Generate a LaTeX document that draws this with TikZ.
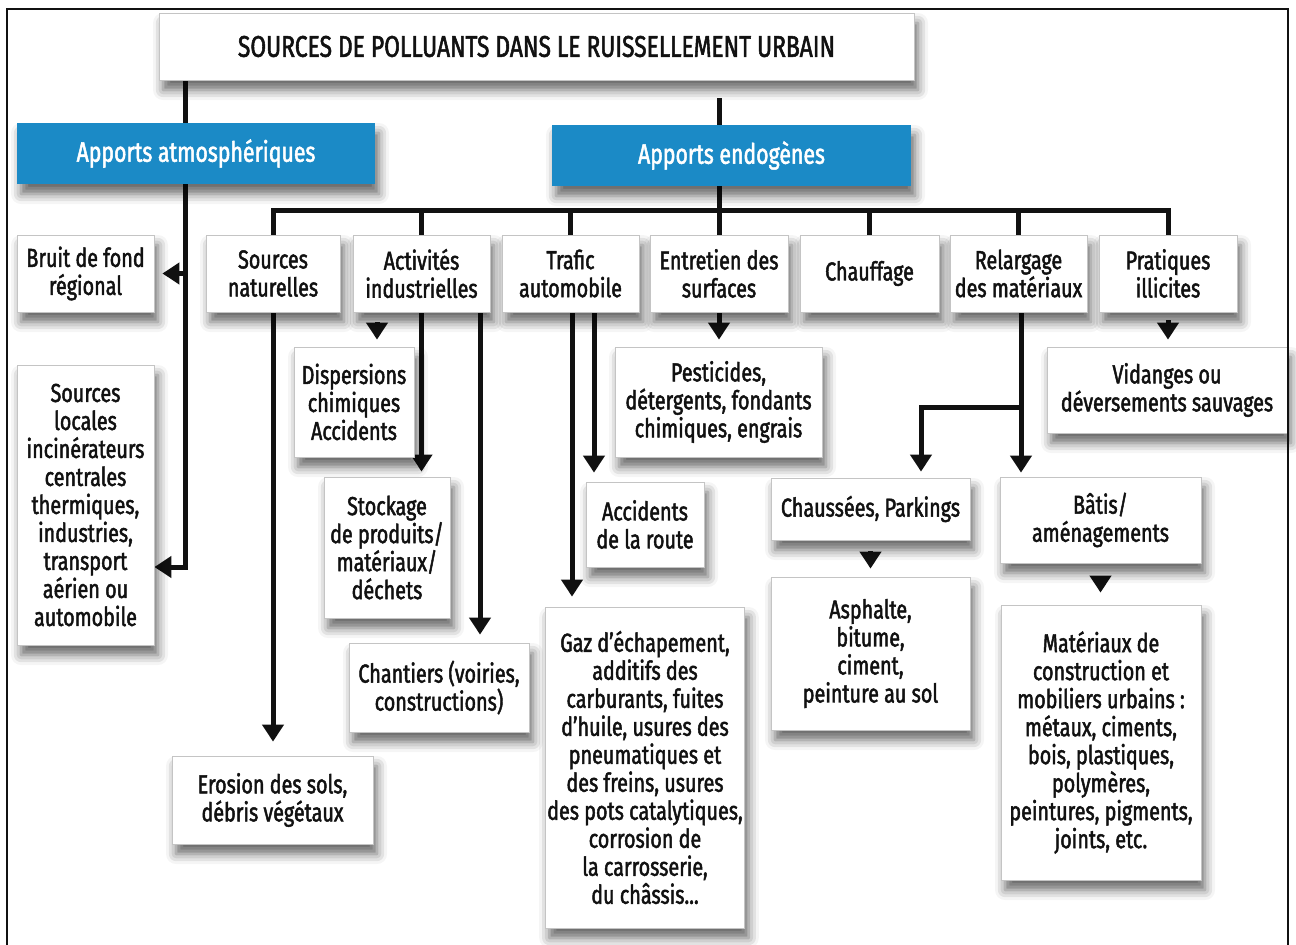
\documentclass[tikz,border=0pt]{standalone}
\usepackage{fontspec}
\setmainfont{Fira Sans}[FakeStretch=0.76,FakeBold=1.8]
\usepackage{tikz}
\usetikzlibrary{arrows.meta,backgrounds,shadows.blur}
\definecolor{HeadBlue}{HTML}{1B8AC6}
\definecolor{BoxEdge}{HTML}{C4C4C4}
\definecolor{InkBlack}{HTML}{111111}

\begin{document}
\begin{tikzpicture}[x=1pt,y=-1pt,
font=\fontsize{26}{28}\selectfont,
box/.style={draw=BoxEdge,line width=0.8pt,fill=white,text=InkBlack,align=center,inner sep=2pt,blur shadow={shadow xshift=4pt,shadow yshift=-10pt,shadow blur radius=10pt,shadow opacity=60}},
head/.style={box,draw=none,fill=HeadBlue,text=white,font=\fontsize{28}{30}\selectfont},
link/.style={line width=5pt,InkBlack},
arr/.style={link,-{Triangle[width=21pt,length=17pt]}}
]
\useasboundingbox (0,0) rectangle (1296,945);
\node[box,minimum width=755pt,minimum height=67pt,font=\fontsize{30}{32}\selectfont] (title) at (536.5,46.5) {SOURCES DE POLLUANTS DANS LE RUISSELLEMENT URBAIN};
\node[head,minimum width=358pt,minimum height=61pt] (atm) at (196,153.5) {Apports atmosphériques};
\node[head,minimum width=359pt,minimum height=61pt] (endo) at (731.5,155.5) {Apports endogènes};
\node[box,minimum width=137pt,minimum height=77pt] (bruit) at (85.5,273.5) {Bruit de fond\\régional};
\node[box,minimum width=134pt,minimum height=77pt] (natur) at (273,273.5) {Sources\\naturelles};
\node[box,minimum width=137pt,minimum height=77pt] (indus) at (421.5,273.5) {Activités\\industrielles};
\node[box,minimum width=137pt,minimum height=77pt] (trafic) at (570.5,273.5) {Trafic\\automobile};
\node[box,minimum width=138pt,minimum height=77pt] (entret) at (719,273.5) {Entretien des\\surfaces};
\node[box,minimum width=139pt,minimum height=77pt] (chauff) at (869.5,273.5) {Chauffage};
\node[box,minimum width=137pt,minimum height=77pt] (relarg) at (1018.5,273.5) {Relargage\\des matériaux};
\node[box,minimum width=138pt,minimum height=77pt] (prat) at (1168,273.5) {Pratiques\\illicites};
\node[box,minimum width=137pt,minimum height=280pt] (locales) at (85.5,505) {Sources\\locales\\incinérateurs\\centrales\\thermiques,\\industries,\\transport\\aérien ou\\automobile};
\node[box,minimum width=120pt,minimum height=110pt] (disp) at (354,402) {Dispersions\\chimiques\\Accidents};
\node[box,minimum width=126pt,minimum height=141pt] (stock) at (387,547.5) {Stockage\\de produits/\\matériaux/\\déchets};
\node[box,minimum width=180pt,minimum height=89pt] (chant) at (439,687.5) {Chantiers (voiries,\\constructions)};
\node[box,minimum width=201pt,minimum height=88pt] (eros) at (272.5,800) {Erosion des sols,\\débris végétaux};
\node[box,minimum width=118pt,minimum height=85pt] (accid) at (645,524.5) {Accidents\\de la route};
\node[box,minimum width=198pt,minimum height=321pt] (gaz) at (645,767.5) {Gaz d’échapement,\\additifs des\\carburants, fuites\\d’huile, usures des\\pneumatiques et\\des freins, usures\\des pots catalytiques,\\corrosion de\\la carrosserie,\\du châssis...};
\node[box,minimum width=207pt,minimum height=110pt] (pest) at (718.5,402) {Pesticides,\\détergents, fondants\\chimiques, engrais};
\node[box,minimum width=199pt,minimum height=62pt] (chauss) at (870.5,509) {Chaussées, Parkings};
\node[box,minimum width=201pt,minimum height=86pt] (batis) at (1100.5,520) {Bâtis/\\aménagements};
\node[box,minimum width=199pt,minimum height=153pt] (asph) at (870.5,653.5) {Asphalte,\\bitume,\\ciment,\\peinture au sol};
\node[box,minimum width=200pt,minimum height=275pt] (mater) at (1101,742.5) {Matériaux de\\construction et\\mobiliers urbains :\\métaux, ciments,\\bois, plastiques,\\polymères,\\peintures, pigments,\\joints, etc.};
\node[box,minimum width=240pt,minimum height=86pt] (vidan) at (1167,390) {Vidanges ou\\déversements sauvages};
\coordinate (atmx) at (185,0);
\coordinate (bar) at (0,210);
\begin{scope}[on background layer]
\draw[arr] (title.south -| atmx) |- (locales.east |- 0,567);
\draw[arr,shorten >=8pt] (bruit.east -| atmx) -- (bruit.east);
\draw[link,shorten <=18pt] (entret.north |- title.south) -- (entret.north |- bar);
\draw[link] (natur.north) -- (natur.north |- bar) -- (prat.north |- bar) -- (prat.north);
\foreach \n in {indus,trafic,entret,chauff,relarg}
  \draw[link] (\n.north |- bar) -- (\n.north);
\draw[arr,shorten >=14pt] (natur.south) -- (natur.south |- eros.north);
\draw[arr,shorten <=10pt,shorten >=7pt] (indus.south -| 377,0) -- (disp.north -| 377,0);
\draw[arr,shorten >=5pt] (indus.south) -- (indus.south |- stock.north);
\draw[arr,shorten >=8pt] (indus.south -| 480,0) -- (chant.north -| 480,0);
\draw[arr,shorten >=10pt] (trafic.south -| 572,0) -- (gaz.north -| 572,0);
\draw[arr,shorten >=9pt] (trafic.south -| 594,0) -- (accid.north -| 594,0);
\draw[arr,shorten >=7pt] (entret.south) -- (entret.south |- pest.north);
\draw[arr,shorten >=4pt] (relarg.south -| 1021,0) -- (batis.north -| 1021,0);
\draw[arr,shorten >=6pt] (relarg.south |- 0,407) -| (chauss.north -| 921,0);
\draw[arr,shorten <=11pt,shorten >=8pt] (chauss.south) -- (chauss.south |- asph.north);
\draw[arr,shorten <=14pt,shorten >=12pt] (batis.south) -- (batis.south |- mater.north);
\draw[arr,shorten <=8pt,shorten >=7pt] (prat.south) -- (prat.south |- vidan.north);
\end{scope}
\draw[line width=2pt,InkBlack] (7,945) -- (7,9) -- (1288,9) -- (1288,945);
\end{tikzpicture}
\end{document}
